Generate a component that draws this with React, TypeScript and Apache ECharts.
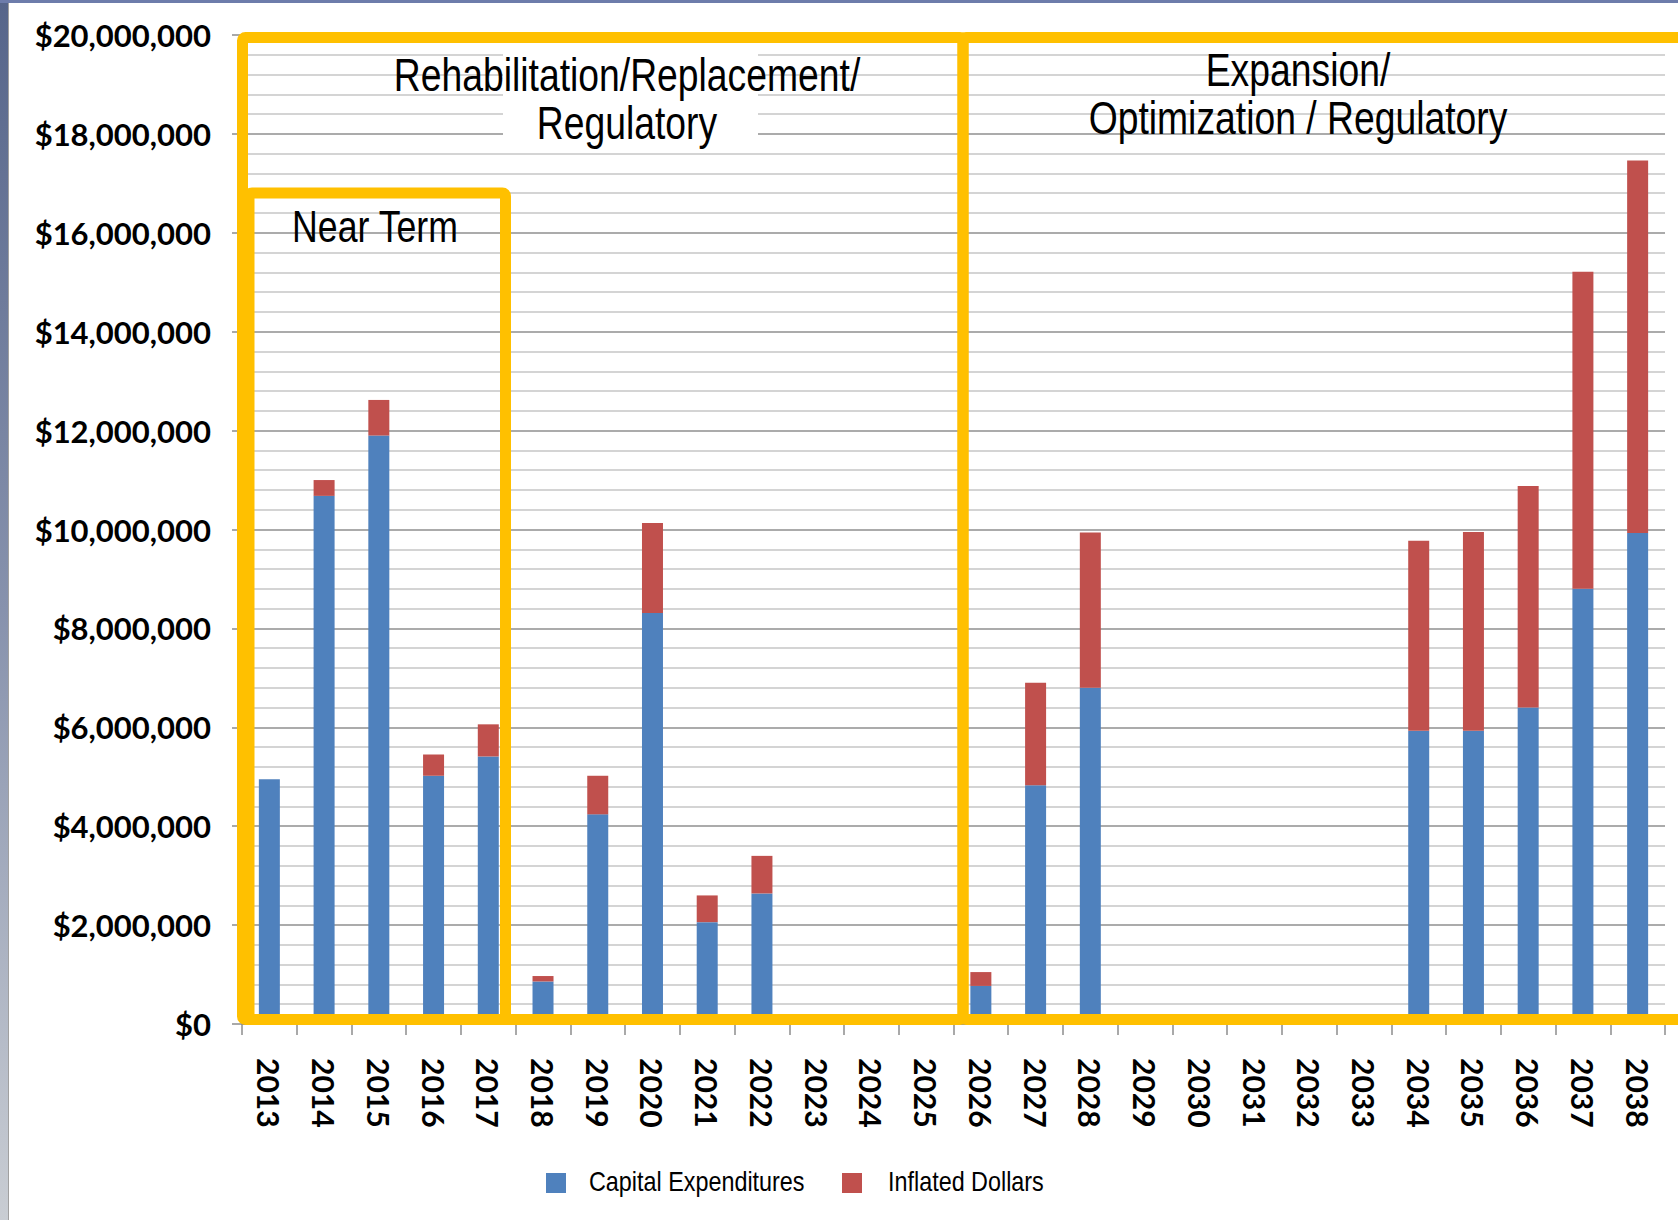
import React, { useEffect, useRef } from "react";
import * as echarts from "echarts";

const years = [
  "2013", "2014", "2015", "2016", "2017", "2018", "2019", "2020", "2021", "2022",
  "2023", "2024", "2025", "2026", "2027", "2028", "2029", "2030", "2031", "2032",
  "2033", "2034", "2035", "2036", "2037", "2038",
];

// Capital Expenditures (blue, lower segment)
const capitalExpenditures = [
  4950000, 10680000, 11900000, 5020000, 5410000, 860000, 4240000, 8310000, 2060000, 2640000,
  0, 0, 0, 770000, 4830000, 6800000, 0, 0, 0, 0,
  0, 5930000, 5930000, 6400000, 8800000, 9930000,
];

// Inflated Dollars (red, stacked on top)
const inflatedDollars = [
  0, 320000, 720000, 430000, 650000, 110000, 780000, 1820000, 540000, 760000,
  0, 0, 0, 280000, 2070000, 3140000, 0, 0, 0, 0,
  0, 3840000, 4020000, 4480000, 6410000, 7530000,
];

const seriesNames = ["Capital Expenditures", "Inflated Dollars"];
const seriesColors = ["#4F81BD", "#C0504D"];
const yMin = 0;
const yMax = 20000000;
const yInterval = 2000000;

const regionTexts = [
  { text: "Rehabilitation/Replacement/", x: 627, y: 75, size: 45.5 },
  { text: "Regulatory", x: 627, y: 123, size: 45.5 },
  { text: "Expansion/", x: 1298, y: 70, size: 45.5 },
  { text: "Optimization / Regulatory", x: 1298, y: 118, size: 45.5 },
  { text: "Near Term", x: 375, y: 227, size: 43.5 },
];

const legendItems = [
  { x: 546, textX: 589 },
  { x: 842, textX: 888 },
];

const NARROW = "'Liberation Sans', Arial, sans-serif";
const NARROW_SCALE = 0.82;
const BOLD = "Lato, 'Open Sans', sans-serif";
const YELLOW = "#FFC000";

function fmtMoney(v: number) {
  return "$" + Math.round(v).toString().replace(/\B(?=(\d{3})+(?!\d))/g, ",");
}

export default function App() {
  const ref = useRef<HTMLDivElement>(null);
  useEffect(() => {
    if (!ref.current) return;
    const chart = echarts.init(ref.current, null, { renderer: "svg" });
    chart.setOption({
      animation: false,
      backgroundColor: "#ffffff",
      grid: { left: 242, right: 13, top: 35, bottom: 196, containLabel: false },
      legend: { show: false, data: seriesNames },
      xAxis: {
        type: "category",
        data: years,
        boundaryGap: true,
        axisLine: { show: true, lineStyle: { color: "#8c8c8c", width: 1.5 } },
        axisTick: { show: true, length: 11, lineStyle: { color: "#8c8c8c", width: 1.5 } },
        axisLabel: {
          rotate: -90,
          margin: 34,
          interval: 0,
          fontFamily: BOLD,
          fontWeight: "bold",
          fontSize: 30,
          color: "#000",
        },
        splitLine: { show: false },
      },
      yAxis: {
        type: "value",
        min: yMin,
        max: yMax,
        interval: yInterval,
        axisLine: { show: false },
        axisTick: { show: true, length: 10, lineStyle: { color: "#8c8c8c", width: 1.5 } },
        axisLabel: {
          margin: 31,
          formatter: (v: number) => fmtMoney(v),
          fontFamily: BOLD,
          fontWeight: "bold",
          fontSize: 31,
          color: "#000",
        },
        splitLine: { show: true, lineStyle: { color: "#8f8f8f", width: 1.5 } },
        minorTick: { show: false, splitNumber: 5 },
        minorSplitLine: { show: true, lineStyle: { color: "#c6c6c6", width: 1.5 } },
      },
      series: [
        {
          name: seriesNames[0],
          type: "bar",
          stack: "total",
          barWidth: 21,
          itemStyle: { color: seriesColors[0] },
          data: capitalExpenditures,
        },
        {
          name: seriesNames[1],
          type: "bar",
          stack: "total",
          barWidth: 21,
          itemStyle: { color: seriesColors[1] },
          data: inflatedDollars,
        },
      ],
      graphic: [
        // page background strips
        {
          type: "rect",
          z: 200,
          silent: true,
          shape: { x: 0, y: 0, width: 8, height: 1220 },
          style: {
            fill: new echarts.graphic.LinearGradient(0, 0, 0, 1, [
              { offset: 0, color: "#56658a" },
              { offset: 0.5, color: "#8792ad" },
              { offset: 1, color: "#c9cdd3" },
            ]),
          },
        },
        {
          type: "rect",
          z: 200,
          silent: true,
          shape: { x: 0, y: 0, width: 1678, height: 3 },
          style: { fill: "#6d7cab" },
        },
        {
          type: "line",
          z: 200,
          silent: true,
          shape: { x1: 8.5, y1: 3, x2: 8.5, y2: 1220 },
          style: { stroke: "#a0a0a0", lineWidth: 1 },
        },
        // white box behind the Rehabilitation label
        {
          type: "rect",
          z: 40,
          silent: true,
          shape: { x: 503, y: 44, width: 255, height: 98 },
          style: { fill: "#ffffff" },
        },
        ...regionTexts.map((t) => ({
          type: "text",
          z: 60,
          silent: true,
          x: t.x,
          y: t.y,
          scaleX: NARROW_SCALE,
          style: {
            text: t.text,
            fontFamily: NARROW,
            fontSize: t.size,
            fill: "#000",
            align: "center",
            verticalAlign: "middle",
          },
        })),
        // legend
        ...legendItems.map((l, i) => ({
          type: "rect",
          z: 60,
          silent: true,
          shape: { x: l.x, y: 1173, width: 20, height: 20 },
          style: { fill: seriesColors[i] },
        })),
        ...legendItems.map((l, i) => ({
          type: "text",
          z: 60,
          silent: true,
          x: l.textX,
          y: 1181,
          scaleX: NARROW_SCALE,
          style: {
            text: seriesNames[i],
            fontFamily: NARROW,
            fontSize: 28.5,
            fill: "#000",
            align: "left",
            verticalAlign: "middle",
          },
        })),
        // yellow region boxes
        {
          type: "rect",
          z: 100,
          silent: true,
          shape: { x: 963, y: 37.5, width: 800, height: 982, r: 3 },
          style: { fill: "none", stroke: YELLOW, lineWidth: 11, lineJoin: "round" },
        },
        {
          type: "rect",
          z: 100,
          silent: true,
          shape: { x: 242.5, y: 37.5, width: 720.5, height: 982, r: 3 },
          style: { fill: "none", stroke: YELLOW, lineWidth: 11, lineJoin: "round" },
        },
        {
          type: "rect",
          z: 100,
          silent: true,
          shape: { x: 249, y: 193, width: 256.5, height: 826.5, r: 3 },
          style: { fill: "none", stroke: YELLOW, lineWidth: 11, lineJoin: "round" },
        },
      ],
    });
    return () => chart.dispose();
  }, []);
  return (
    <div
      ref={ref}
      style={{ position: "fixed", left: 0, top: 0, width: 1678, height: 1220 }}
    />
  );
}
